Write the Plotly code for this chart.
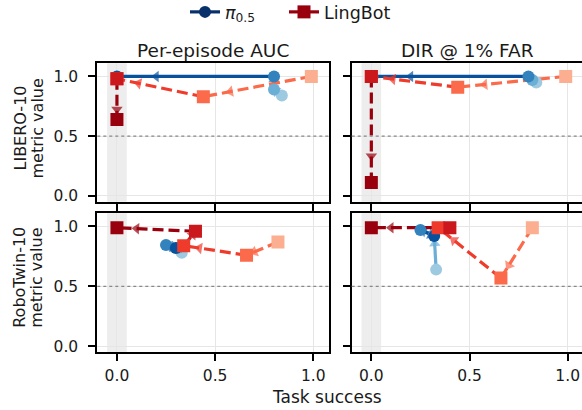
import plotly.graph_objects as go

# ---------------- data ----------------
metrics = ["Per-episode AUC", "DIR @ 1% FAR"]
benchmarks = ["LIBERO-10", "RoboTwin-10"]
tick_vals = [0.0, 0.5, 1.0]
tick_text = ["0.0", "0.5", "1.0"]
band_x = [-0.05, 0.05]
ref_level = 0.5

pi05_libero_auc_x = [0.84, 0.80, 0.80, 0.00]
pi05_libero_auc_y = [0.84, 0.89, 1.00, 1.00]
pi05_libero_dir_x = [0.84, 0.82, 0.80, 0.00]
pi05_libero_dir_y = [0.95, 0.97, 1.00, 1.00]
pi05_robotwin_auc_x = [0.33, 0.31, 0.25, 0.30]
pi05_robotwin_auc_y = [0.78, 0.82, 0.845, 0.82]
pi05_robotwin_dir_x = [0.33, 0.32, 0.25, 0.32]
pi05_robotwin_dir_y = [0.64, 0.93, 0.97, 0.92]

lingbot_libero_auc_x = [0.99, 0.44, 0.00, 0.00, 0.00]
lingbot_libero_auc_y = [1.00, 0.83, 0.98, 0.98, 0.64]
lingbot_libero_dir_x = [0.99, 0.44, 0.00, 0.00, 0.00]
lingbot_libero_dir_y = [1.00, 0.91, 1.00, 1.00, 0.11]
lingbot_robotwin_auc_x = [0.82, 0.66, 0.34, 0.40, 0.00]
lingbot_robotwin_auc_y = [0.87, 0.76, 0.84, 0.96, 0.99]
lingbot_robotwin_dir_x = [0.82, 0.66, 0.34, 0.40, 0.00]
lingbot_robotwin_dir_y = [0.99, 0.57, 0.99, 0.99, 0.99]

# ---------------- style ----------------
W, H = 582, 410
FONT = "DejaVu Sans"
TXT = "#1a1a1a"
pi05_colors = ["#9ecae1", "#6baed6", "#3182bd", "#08519c"]
lingbot_colors = ["#fcae91", "#fb6a4a", "#ef3b2c", "#cb181d", "#99000d"]
pi05_legend_color = "#08306b"
lingbot_legend_color = "#99000d"
ARROW_AT = 0.75
LINE_W = 3.2

col_px = [[97.3, 329.0], [351.7, 583.4]]
row_px = [[63.3, 201.7], [213.3, 352.3]]
col_dom = [[col_px[0][0] / W, col_px[0][1] / W], [col_px[1][0] / W, 1.0]]
row_dom = [[1 - row_px[0][1] / H, 1 - row_px[0][0] / H], [1 - row_px[1][1] / H, 1 - row_px[1][0] / H]]
px_per_unit = (col_px[0][1] - col_px[0][0]) / 1.18
x_ranges = [[-0.1, 1.08], [-0.1, -0.1 + (W - col_px[1][0]) / px_per_unit]]
y_range = [-0.05, 1.11]

panels = [
    (0, 0, pi05_libero_auc_x, pi05_libero_auc_y, lingbot_libero_auc_x, lingbot_libero_auc_y),
    (0, 1, pi05_libero_dir_x, pi05_libero_dir_y, lingbot_libero_dir_x, lingbot_libero_dir_y),
    (1, 0, pi05_robotwin_auc_x, pi05_robotwin_auc_y, lingbot_robotwin_auc_x, lingbot_robotwin_auc_y),
    (1, 1, pi05_robotwin_dir_x, pi05_robotwin_dir_y, lingbot_robotwin_dir_x, lingbot_robotwin_dir_y),
]

fig = go.Figure()


def seg_traces(xs, ys, colors, dash, xa, ya):
    out = []
    for i in range(len(xs) - 1):
        x0, y0, x1, y1 = xs[i], ys[i], xs[i + 1], ys[i + 1]
        c = colors[i + 1]
        if abs(x1 - x0) < 1e-9 and abs(y1 - y0) < 1e-9:
            continue
        xm = x0 + ARROW_AT * (x1 - x0)
        ym = y0 + ARROW_AT * (y1 - y0)
        out.append(go.Scatter(
            x=[x0, xm, x1], y=[y0, ym, y1], xaxis=xa, yaxis=ya,
            mode="lines+markers", showlegend=False, hoverinfo="skip",
            line=dict(color=c, width=LINE_W, dash=dash),
            marker=dict(size=[0, 10, 0], symbol="triangle-up", angleref="previous",
                        color=c, line=dict(width=0)),
        ))
    return out


line_traces, pi_marks, lb_marks = [], [], []
for k, (r, c, px, py, lx, ly) in enumerate(panels):
    s = "" if k == 0 else str(k + 1)
    xa, ya = "x" + s, "y" + s
    line_traces += seg_traces(px, py, pi05_colors, "solid", xa, ya)
    line_traces += seg_traces(lx, ly, lingbot_colors, "11px,5px", xa, ya)
    pi_marks.append(go.Scatter(x=px, y=py, xaxis=xa, yaxis=ya, mode="markers",
                               showlegend=False, hoverinfo="skip",
                               marker=dict(size=12, symbol="circle", color=pi05_colors,
                                           line=dict(width=0))))
    lb_marks.append(go.Scatter(x=lx, y=ly, xaxis=xa, yaxis=ya, mode="markers",
                               showlegend=False, hoverinfo="skip",
                               marker=dict(size=13, symbol="square", color=lingbot_colors,
                                           line=dict(width=0))))

for t in line_traces + pi_marks + lb_marks:
    fig.add_trace(t)

# legend entries (one legend box per entry so each can be placed)
fig.add_trace(go.Scatter(x=[None], y=[None], mode="lines+markers", name="<i>π</i><sub>0.5</sub>",
                         legend="legend",
                         line=dict(color=pi05_legend_color, width=LINE_W),
                         marker=dict(size=12, symbol="circle", color=pi05_legend_color)))
fig.add_trace(go.Scatter(x=[None], y=[None], mode="lines+markers", name="LingBot",
                         legend="legend2",
                         line=dict(color=lingbot_legend_color, width=LINE_W),
                         marker=dict(size=13, symbol="square", color=lingbot_legend_color)))

shapes = []
annotations = []
for k, (r, c, *_rest) in enumerate(panels):
    s = "" if k == 0 else str(k + 1)
    xkey, ykey = "xaxis" + s, "yaxis" + s
    fig.layout[xkey] = dict(
        domain=col_dom[c], anchor="y" + s, range=x_ranges[c],
        tickvals=tick_vals, ticktext=tick_text, showticklabels=(r == 1),
        ticks="outside", ticklen=7, tickwidth=1.6, tickcolor="black",
        ticklabelstandoff=1, automargin=False,
        showline=True, mirror=True, linecolor="black", linewidth=2,
        showgrid=True, gridcolor="#e6e6e6", gridwidth=1, zeroline=False,
        tickfont=dict(size=15.5, color=TXT, family=FONT),
    )
    fig.layout[ykey] = dict(
        domain=row_dom[r], anchor="x" + s, range=y_range,
        tickvals=tick_vals, ticktext=tick_text, showticklabels=(c == 0),
        ticks="outside", ticklen=7, tickwidth=1.6, tickcolor="black",
        ticklabelstandoff=7, automargin=False,
        showline=True, mirror=(c == 0), linecolor="black", linewidth=2,
        showgrid=True, gridcolor="#e6e6e6", gridwidth=1, zeroline=False,
        tickfont=dict(size=15.5, color=TXT, family=FONT),
    )
    shapes.append(dict(type="rect", xref="x" + s, yref="y" + s + " domain",
                       x0=band_x[0], x1=band_x[1], y0=0, y1=1,
                       fillcolor="#ededed", line=dict(width=0), layer="below"))
    shapes.append(dict(type="line", xref="x" + s + " domain", yref="y" + s,
                       x0=0, x1=1, y0=ref_level, y1=ref_level,
                       line=dict(color="#888888", width=1.2, dash="dot"), layer="above"))

# column titles
for c, name in enumerate(metrics):
    xc = (col_px[c][0] + col_px[c][1]) / 2 / W
    annotations.append(dict(text=name, x=xc, y=1 - 50 / H, xref="paper", yref="paper",
                            xanchor="center", yanchor="middle", showarrow=False,
                            font=dict(size=18.5, color=TXT, family=FONT)))

# row titles
row_centers = [(row_px[0][0] + row_px[0][1]) / 2 - 4, (row_px[1][0] + row_px[1][1]) / 2 - 5]
for r, name in enumerate(benchmarks):
    for line_text, xpx in ((name, 20), ("metric value", 37)):
        annotations.append(dict(text=line_text, x=xpx / W, y=1 - row_centers[r] / H,
                                xref="paper", yref="paper", xanchor="center", yanchor="middle",
                                textangle=-90, showarrow=False,
                                font=dict(size=16, color=TXT, family=FONT)))

annotations.append(dict(text="Task success", x=327 / W, y=1 - 397 / H, xref="paper", yref="paper",
                        xanchor="center", yanchor="middle", showarrow=False,
                        font=dict(size=17, color=TXT, family=FONT)))

legend_common = dict(orientation="h", xanchor="left", y=1 - 12 / H, yanchor="middle",
                     xref="container", yref="container",
                     font=dict(size=17.5, color=TXT, family=FONT), bgcolor="rgba(0,0,0,0)")

fig.update_layout(
    width=W, height=H, margin=dict(l=0, r=0, t=0, b=0, autoexpand=False),
    paper_bgcolor="white", plot_bgcolor="white",
    font=dict(family=FONT, color=TXT),
    shapes=shapes, annotations=annotations,
    showlegend=True,
    legend=dict(x=185 / W, **legend_common),
    legend2=dict(x=284 / W, **legend_common),
)

fig.write_html("out.html", config={"displayModeBar": False},
               post_script="document.body.style.margin='0px';")
